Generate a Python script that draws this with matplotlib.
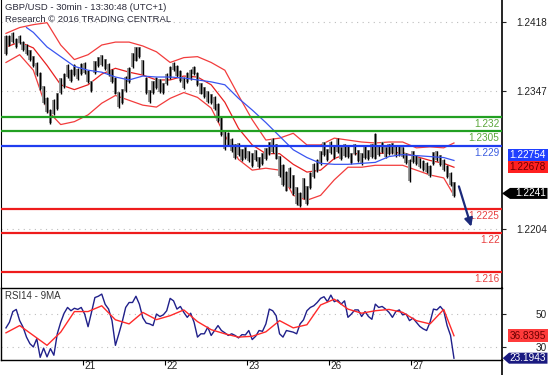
import matplotlib
matplotlib.use('Agg')
import matplotlib.pyplot as plt
from matplotlib.patches import Polygon
from matplotlib.lines import Line2D
import numpy as np

plt.rcParams['font.family'] = ['Liberation Sans', 'DejaVu Sans']

# --- data (30min GBP/USD, every second bar) ---
closes = [1.2391, 1.2399, 1.2401, 1.2397, 1.2399, 1.2394, 1.2389, 1.2384, 1.2376, 1.2370,
          1.2358, 1.2342, 1.2332, 1.2322, 1.2329, 1.2337, 1.2350, 1.2358, 1.2366, 1.2363,
          1.2368, 1.2365, 1.2368, 1.2370, 1.2363, 1.2353, 1.2370, 1.2376, 1.2379, 1.2374,
          1.2368, 1.2363, 1.2353, 1.2337, 1.2342, 1.2353, 1.2363, 1.2376, 1.2384, 1.2387,
          1.2373, 1.2353, 1.2342, 1.2350, 1.2356, 1.2353, 1.2350, 1.2358, 1.2366, 1.2373,
          1.2368, 1.2362, 1.2356, 1.2360, 1.2364, 1.2370, 1.2360, 1.2350, 1.2345, 1.2342,
          1.2339, 1.2335, 1.2327, 1.2312, 1.2296, 1.2298, 1.2291, 1.2286, 1.2288, 1.2281,
          1.2284, 1.2279, 1.2276, 1.2281, 1.2273, 1.2278, 1.2281, 1.2288, 1.2291, 1.2286,
          1.2270, 1.2263, 1.2255, 1.2260, 1.2250, 1.2239, 1.2234, 1.2245, 1.2239, 1.2255,
          1.2265, 1.2270, 1.2278, 1.2286, 1.2281, 1.2288, 1.2284, 1.2291, 1.2281, 1.2286,
          1.2284, 1.2278, 1.2286, 1.2281, 1.2276, 1.2284, 1.2281, 1.2286, 1.2291, 1.2286,
          1.2288, 1.2284, 1.2286, 1.2288, 1.2284, 1.2286, 1.2283, 1.2278, 1.2270, 1.2278,
          1.2276, 1.2272, 1.2270, 1.2267, 1.2265, 1.2276, 1.2279, 1.2276, 1.2270, 1.2265,
          1.2257, 1.2241]
hi_pips = [13, 5, 6, 4, 5, 4, 6, 5, 7, 6, 8, 10, 8, 6, 9, 8, 10, 7, 8, 6,
           6, 5, 7, 6, 5, 4, 8, 6, 5, 6, 7, 6, 8, 9, 7, 9, 8, 10, 8, 5,
           6, 8, 6, 7, 5, 6, 5, 7, 6, 3, 5, 6, 5, 6, 5, 2, 6, 5, 6, 5,
           5, 6, 7, 8, 9, 6, 7, 6, 5, 6, 5, 6, 7, 5, 6, 5, 7, 6, 7, 6,
           10, 8, 9, 8, 10, 9, 8, 12, 10, 8, 7, 6, 7, 8, 6, 7, 6, 7, 8, 6,
           6, 5, 6, 5, 7, 6, 5, 6, 12, 5, 6, 5, 6, 5, 6, 5, 6, 5, 6, 7,
           5, 6, 5, 6, 5, 8, 6, 5, 6, 5, 6, 12]
lo_pips = [7, 6, 5, 6, 4, 6, 5, 6, 5, 8, 10, 9, 8, 9, 7, 10, 6, 8, 6, 7,
           6, 7, 5, 6, 8, 7, 6, 5, 7, 6, 6, 8, 10, 8, 9, 7, 8, 6, 7, 6,
           10, 9, 8, 6, 7, 8, 6, 5, 7, 6, 7, 6, 7, 5, 6, 7, 8, 7, 6, 8,
           6, 8, 12, 12, 10, 8, 7, 9, 8, 7, 7, 6, 8, 7, 6, 8, 6, 7, 8, 10,
           12, 14, 12, 13, 11, 10, 7, 10, 10, 9, 8, 7, 8, 6, 7, 6, 7, 8, 6, 7,
           6, 7, 5, 8, 6, 7, 6, 8, 15, 6, 5, 6, 5, 6, 5, 6, 5, 7, 17, 6,
           6, 5, 6, 5, 7, 6, 5, 7, 6, 8, 8, 4]

# indicators read every 4th bar
ind_idx = list(range(0, 129, 4)) + [131]
bb_upper = [1.2406, 1.2412, 1.2415, 1.2417, 1.2394, 1.2379, 1.2384, 1.2394, 1.2397, 1.2397,
            1.2393, 1.2387, 1.2376, 1.2381, 1.2382, 1.2376, 1.2368, 1.2342, 1.2317, 1.2296,
            1.2298, 1.2303, 1.2291, 1.2291, 1.2298, 1.2296, 1.2294, 1.2293, 1.2294, 1.2294,
            1.2288, 1.2289, 1.2288, 1.2293]
bb_mid = [1.2392, 1.2397, 1.2391, 1.2373, 1.2353, 1.2348, 1.2353, 1.2364, 1.2370, 1.2366,
          1.2363, 1.2358, 1.2358, 1.2362, 1.2361, 1.2353, 1.2335, 1.2308, 1.2291, 1.2282,
          1.2282, 1.2271, 1.2263, 1.2265, 1.2277, 1.2282, 1.2282, 1.2282, 1.2283, 1.2283,
          1.2279, 1.2275, 1.2272, 1.2268]
bb_lower = [1.2376, 1.2384, 1.2368, 1.2327, 1.2312, 1.2315, 1.2322, 1.2334, 1.2342, 1.2337,
            1.2332, 1.2330, 1.2339, 1.2345, 1.2340, 1.2329, 1.2301, 1.2276, 1.2265, 1.2267,
            1.2265, 1.2239, 1.2234, 1.2239, 1.2255, 1.2268, 1.2268, 1.2270, 1.2270, 1.2270,
            1.2265, 1.2260, 1.2257, 1.2239]
blue_idx = [6] + ind_idx[2:]
ma_blue = [1.2412, 1.2407, 1.2392, 1.2382, 1.2372, 1.2368, 1.2366, 1.2361, 1.2358,
           1.2362, 1.2361, 1.2361, 1.2360, 1.2358, 1.2356, 1.2353, 1.2339, 1.2327, 1.2314,
           1.2300, 1.2286, 1.2278, 1.2272, 1.2271, 1.2271, 1.2272, 1.2273, 1.2279, 1.2281,
           1.2280, 1.2279, 1.2278, 1.2275]

rsi = [41.6, 45, 51.5, 52.8, 46, 42, 36, 32, 30, 35,
       23.7, 29.3, 24, 29, 25, 38, 45, 50.5, 54, 52,
       53.5, 52.8, 54, 50, 42.3, 51, 60, 60.8, 62.1, 55.9,
       53, 46, 31, 38, 45.4, 54, 57, 57, 60.8, 56,
       47.8, 44.5, 44, 43, 50, 48.5, 49.5, 52, 59.5, 58,
       53, 54.6, 51, 48, 50.5, 45, 36, 38, 38, 42,
       37, 40, 43, 40, 38.6, 37, 38, 37, 35.5, 37.5,
       37.3, 40, 34.5, 36.5, 40, 39.5, 44, 53, 52, 49,
       38, 36, 40, 39.5, 39, 38, 44, 46.5, 52, 54,
       55, 57, 59.5, 60.5, 57.5, 61.5, 57.5, 58.5, 56, 58,
       48, 50, 52.5, 52.5, 48.5, 51.5, 48.5, 46.8, 56, 54,
       54.6, 53, 51, 48, 51.5, 52.5, 49.5, 50, 46, 47.5,
       45, 42.5, 41, 40, 45, 53, 52.5, 54.6, 52, 43,
       37, 23.1943]
rsi_ma = [38.6, 43, 37, 31, 39, 51.5, 51.5, 55, 46.5, 44, 51, 46.6, 49, 52.5, 45.4, 40.5,
          38, 36, 36.5, 39.2, 46, 41.6, 43.5, 55.5, 59, 53, 50.5, 52, 52.8, 51, 46, 44,
          52.8, 36.8395]

levels = [1.232, 1.2305, 1.229, 1.2225, 1.22, 1.216]
level_labels = ['1.232', '1.2305', '1.229', '1.2225', '1.22', '1.216']
level_colors = ['#22a022', '#22a022', '#1f3df0', '#ee1c1c', '#ee1c1c', '#ee1c1c']
level_text_colors = ['#5aa63a', '#5aa63a', '#3a5ce0', '#e84040', '#e84040', '#e84040']

price_ticks = [1.2418, 1.2347, 1.2204]
day_pos = [22.5, 46.5, 70.5, 94.5, 118.5]
day_labels = ['21', '22', '23', '26', '27']
arrow_from = (132.2, 1.2251)
arrow_to = (136.3, 1.2204)

# --- figure ---
W, H = 554, 375
fig = plt.figure(figsize=(W / 100, H / 100), dpi=100)
ax = fig.add_axes([1 / W, 1 - 288 / H, 500.5 / W, 288 / H])
rx = fig.add_axes([1 / W, 1 - 360 / H, 500.5 / W, 72 / H])
xl = (-1.46, 144.9)

x = np.arange(len(closes))
c = np.array(closes)
hi = c + np.array(hi_pips) * 1e-4
lo = c - np.array(lo_pips) * 1e-4

ax.plot(ind_idx, bb_upper, color='#f23c3c', lw=0.9, zorder=2)
ax.plot(ind_idx, bb_lower, color='#f23c3c', lw=0.9, zorder=2)
ax.plot(ind_idx, bb_mid, color='#e82020', lw=0.9, zorder=2)
ax.bar(x, hi - lo - 0.00015, bottom=lo + 0.0001, width=0.95,
       color='#9a9a9a', linewidth=0, zorder=2.5)
ax.vlines(x, lo, hi, color='black', lw=1.0, zorder=3)
ax.plot(blue_idx, ma_blue, color='#3a55f0', lw=0.9, zorder=3.5)

for lv, lab, col, tcol in zip(levels, level_labels, level_colors, level_text_colors):
    ax.axhline(lv, color=col, lw=1.6, zorder=4)
    ax.annotate(lab, xy=(1, lv), xycoords=('axes fraction', 'data'), xytext=(-2, -7),
                textcoords='offset pixels', ha='right', va='center', color=tcol,
                fontsize=7.2, zorder=5)

ax.annotate('', xy=arrow_to, xytext=arrow_from,
            arrowprops=dict(arrowstyle='-|>', color='#1c2a7a', lw=1.6, mutation_scale=12),
            zorder=5)

ax.set_xlim(*xl)
ax.set_ylim(1.21435, 1.24404)
ax.set_xticks([])
ax.set_yticks(price_ticks)
ax.set_yticklabels(['%.4f' % v for v in price_ticks])
ax.yaxis.tick_right()
ax.tick_params(axis='y', length=3, width=0.8, pad=29.8, labelsize=7.2, colors='#222222')
for t in ax.get_yticklabels():
    t.set_horizontalalignment('right')
ax.grid(axis='y', color='#bdbdbd', linestyle=(0, (1, 4)), lw=0.8)
ax.spines['top'].set_visible(False)
ax.spines['bottom'].set_visible(False)
ax.spines['right'].set_linewidth(1.2)

# --- RSI panel ---
rx.plot(x, rsi, color='#20208a', lw=1.0, zorder=3)
rx.plot(ind_idx, rsi_ma, color='#ff2a2a', lw=1.0, zorder=4)
rx.set_xlim(*xl)
rx.set_ylim(22.1, 65.8)
rx.set_yticks([30, 50])
rx.set_yticklabels(['30', '50'])
rx.yaxis.tick_right()
rx.tick_params(axis='y', length=3, width=0.8, pad=29.8, labelsize=7.2, colors='#222222')
for t in rx.get_yticklabels():
    t.set_horizontalalignment('right')
rx.grid(axis='y', color='#bdbdbd', linestyle=(0, (1, 4)), lw=0.8)
rx.set_xticks(day_pos)
rx.tick_params(axis='x', direction='out', length=3.5, width=0.8, labelbottom=False)
for p, lab in zip(day_pos, day_labels):
    rx.text(p + 0.5, -0.09, lab, transform=rx.get_xaxis_transform(), ha='left',
            va='center', fontsize=7.2, color='#222222')
rx.text(0.008, 0.885, 'RSI14 - 9MA', transform=rx.transAxes, ha='left', va='center',
        fontsize=7, color='#333333')
for s in rx.spines.values():
    s.set_linewidth(1.0)
rx.spines['right'].set_linewidth(1.2)
fig.add_artist(Line2D([501.5 / W, 501.5 / W], [0, 15 / H], color='black', lw=1.2,
                      transform=fig.transFigure))

fig.text(5 / W, 1 - 7.5 / H, 'GBP/USD - 30min - 13:30:48 (UTC+1)', ha='left', va='center',
         fontsize=6.8, color='#2a2a3a')
fig.text(5 / W, 1 - 20 / H, 'Research \u00a9 2016 TRADING CENTRAL', ha='left', va='center',
         fontsize=6.8, color='#2a2a3a')


def tag(axis, value, text, fc, tc, arrow=False, dy=0, tip=502, x0=508, x1=547.5, h=12):
    yd = axis.transData.transform((0, value))[1] + dy
    if arrow:
        pts = [(tip, yd), (x0, yd + h / 2), (x1, yd + h / 2), (x1, yd - h / 2), (x0, yd - h / 2)]
    else:
        pts = [(x0, yd + h / 2), (x1, yd + h / 2), (x1, yd - h / 2), (x0, yd - h / 2)]
    fig.add_artist(Polygon([(px / W, py / H) for px, py in pts], closed=True,
                           transform=fig.transFigure, fc=fc, ec='none'))
    fig.text((x1 - 1.5) / W, yd / H, text, ha='right', va='center', color=tc, fontsize=7.2)


tag(ax, ma_blue[-1] + 0.00004, '1.22754', '#1f3fff', 'white', dy=5.5)
tag(ax, bb_mid[-1] - 0.00002, '1.22678', '#ff2020', '#6a0000')
tag(ax, closes[-1], '1.2241', 'black', 'white', arrow=True, x0=510, h=11)
tag(rx, rsi_ma[-1], '36.8395', '#ff3b3b', '#6a0000', h=12.5)
tag(rx, rsi[-1], '23.1943', '#1a1a80', 'white', arrow=True, tip=502.7, x0=509, h=11)

fig.savefig('out.png', dpi=100)
